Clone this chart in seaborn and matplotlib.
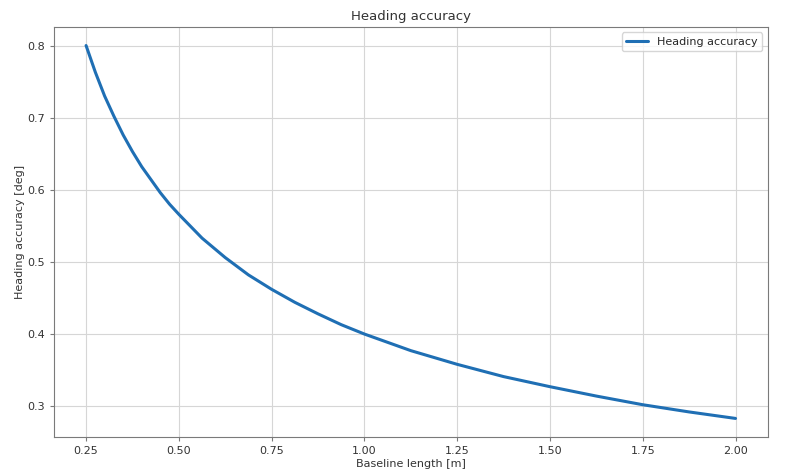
import pandas as pd
import numpy as np
import matplotlib
matplotlib.use("Agg")
import matplotlib.pyplot as plt
import seaborn as sns

# values
baseline = [0.25, 0.275, 0.30, 0.325, 0.35, 0.375, 0.40, 0.425, 0.45, 0.475, 0.50,
            0.5625, 0.625, 0.6875, 0.75, 0.8125, 0.875, 0.9375, 1.00, 1.125, 1.25,
            1.375, 1.50, 1.625, 1.75, 1.875, 2.00]
accuracy = [0.800, 0.763, 0.730, 0.702, 0.676, 0.653, 0.632, 0.614, 0.596, 0.580, 0.566,
            0.533, 0.506, 0.482, 0.462, 0.444, 0.428, 0.413, 0.400, 0.377, 0.358,
            0.341, 0.327, 0.314, 0.302, 0.292, 0.283]

df = pd.DataFrame({"Baseline length [m]": baseline, "Heading accuracy": accuracy})

sns.set_style("whitegrid", {"axes.edgecolor": "#7a7a7a", "grid.color": "#d6d6d6"})
plt.rcParams["font.family"] = ["DejaVu Sans"]

fig, ax = plt.subplots(figsize=(8, 4.72), dpi=100)
fig.subplots_adjust(left=0.067, right=0.96, top=0.943, bottom=0.074)

sns.lineplot(data=df, x="Baseline length [m]", y="Heading accuracy", ax=ax,
             color="#1f6fb4", linewidth=2.2, label="Heading accuracy")

ax.set_xticks([0.25, 0.50, 0.75, 1.00, 1.25, 1.50, 1.75, 2.00])
ax.set_yticks([0.3, 0.4, 0.5, 0.6, 0.7, 0.8])
ax.tick_params(axis="both", labelsize=8, length=3, color="#7a7a7a", labelcolor="#333333")
ax.tick_params(axis="both", which="both", bottom=True, left=True)
ax.set_xlabel("Baseline length [m]", fontsize=8, color="#333333", labelpad=2)
ax.set_ylabel("Heading accuracy [deg]", fontsize=8, color="#333333", labelpad=1)
ax.set_title("Heading accuracy", fontsize=9.5, color="#333333", pad=5)
ax.legend(loc="upper right", fontsize=8, frameon=True)

fig.savefig("out.png", dpi=100)
